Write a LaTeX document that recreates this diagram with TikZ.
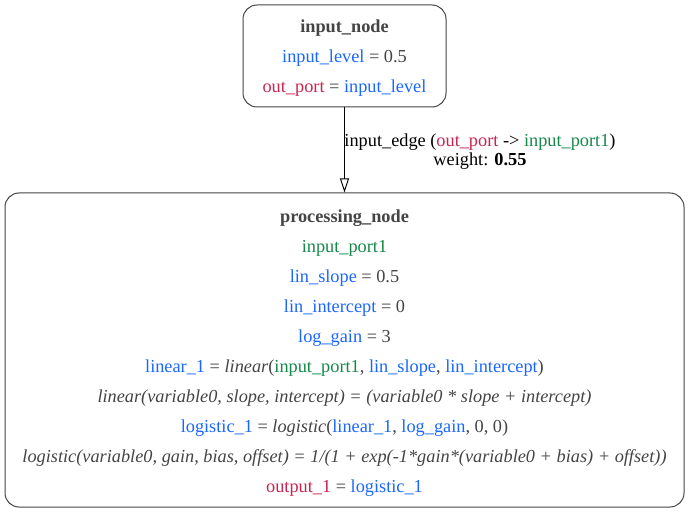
\documentclass[tikz,border=0pt]{standalone}
\usepackage{fontspec}
\setmainfont{Liberation Serif}
\usetikzlibrary{arrows.meta,positioning}
\definecolor{nodegray}{HTML}{444444}
\definecolor{parblue}{HTML}{1A66FF}
\definecolor{portred}{HTML}{C8254F}
\definecolor{portgreen}{HTML}{16884A}
\newcommand{\pblue}[1]{\textcolor{parblue}{#1}}
\newcommand{\pred}[1]{\textcolor{portred}{#1}}
\newcommand{\pgreen}[1]{\textcolor{portgreen}{#1}}
\newcommand{\topgap}[1]{\rule{0pt}{#1}}

\begin{document}
\begin{tikzpicture}[x=1pt,y=-1pt,
  mdlbox/.style={draw=nodegray, line width=1pt, rounded corners=14pt, text=nodegray, align=center, inner sep=0pt, font=\fontsize{18.3}{30}\selectfont},
  edgearrow/.style={-{Triangle[open,length=14pt,width=9pt]}, line width=1pt, black}]
\useasboundingbox (0,0) rectangle (689,513);
\node[mdlbox, minimum width=203pt, minimum height=102pt] (inputnode) at (344.5,56) {\topgap{16pt}\textbf{input\_node}\\ \pblue{input\_level} = 0.5\\ \pred{out\_port} = \pblue{input\_level}};
\node[mdlbox, minimum width=679pt, minimum height=314pt] (procnode) at (344.5,350) {\topgap{18pt}\textbf{processing\_node}\\
  \pgreen{input\_port1}\\
  \pblue{lin\_slope} = 0.5\\
  \pblue{lin\_intercept} = 0\\
  \pblue{log\_gain} = 3\\
  \pblue{linear\_1} = \textit{linear}(\pgreen{input\_port1}, \pblue{lin\_slope}, \pblue{lin\_intercept})\\
  \textit{linear(variable0, slope, intercept) = (variable0 * slope + intercept)}\\
  \pblue{logistic\_1} = \textit{logistic}(\pblue{linear\_1}, \pblue{log\_gain}, 0, 0)\\
  \textit{logistic(variable0, gain, bias, offset) = 1/(1 + exp(-1*gain*(variable0 + bias) + offset))}\\
  \pred{output\_1} = \pblue{logistic\_1}};
\draw[edgearrow] (inputnode) -- (procnode);
\node[align=center, inner sep=0pt, font=\fontsize{18.3}{18.3}\selectfont] (edgelbl) at (480,151.5) {input\_edge (\pred{out\_port} -> \pgreen{input\_port1})\\ weight: \textbf{0.55}};
\end{tikzpicture}
\end{document}
